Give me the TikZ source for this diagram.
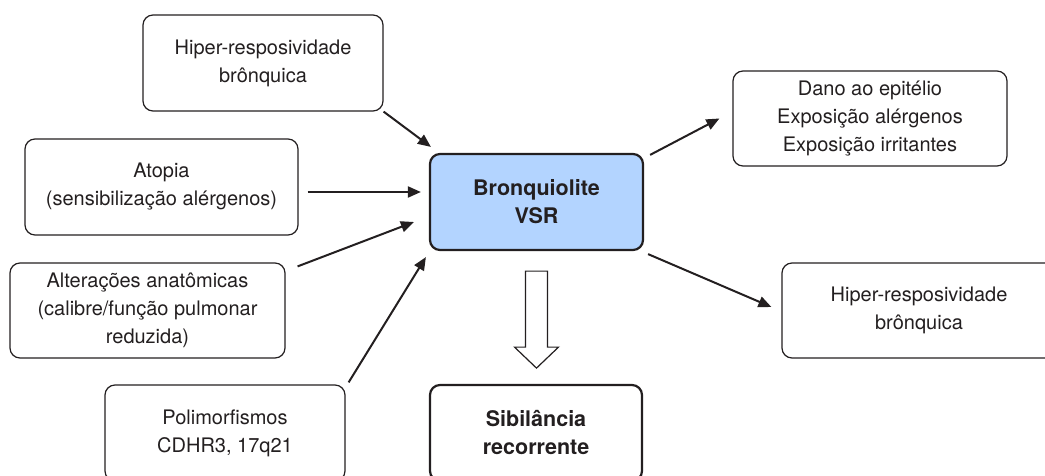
\documentclass[tikz,border=0pt]{standalone}
\usepackage{fontspec}
\setmainfont{TeX Gyre Heros}
\usetikzlibrary{arrows.meta}
\definecolor{ink}{HTML}{231F20}
\definecolor{vsrblue}{HTML}{B3D4FF}

\begin{document}
\begin{tikzpicture}[x=1pt, y=-1pt, color=ink, align=center, font=\fontsize{20}{28}\selectfont,
  box/.style={draw, rounded corners=10pt, line width=1.2pt, minimum height=96pt, inner sep=0pt},
  keybox/.style={box, line width=2.2pt, font=\fontsize{21.5}{28}\selectfont\bfseries},
  link/.style={-{Triangle[length=13pt,width=11pt]}, line width=2pt},
  hollow/.style={line width=1.2pt, fill=white, line join=miter}]
\useasboundingbox (0,0) rectangle (1045,476);
\node[box, minimum width=240pt] at (263,63) (hipL) {Hiper-resposividade\\brônquica};
\node[box, minimum width=273pt] at (161.5,187) (atop) {Atopia\\(sensibilização alérgenos)};
\node[box, minimum width=275pt, minimum height=95pt] at (147.5,310.5) (alter) {Alterações anatômicas\\(calibre/função pulmonar\\reduzida)};
\node[box, minimum width=240pt] at (225,433) (polim) {Polimorfismos\\CDHR3, 17q21};
\node[keybox, fill=vsrblue, minimum width=213pt] at (536.5,202) (bronq) {Bronquiolite\\VSR};
\node[keybox, minimum width=212pt] at (536,433) (sib) {Sibilância\\recorrente};
\node[box, minimum width=274pt, minimum height=95pt] at (870,118.5) (dano) {Dano ao epitélio\\Exposição alérgenos\\Exposição irritantes};
\node[box, minimum width=274pt, minimum height=95pt] at (919,310.5) (hipR) {Hiper-resposividade\\brônquica};
\draw[link] (hipL.south east) -- ([shift={(2pt,6pt)}]bronq.north west);
\draw[link] ([shift={(9pt,-5pt)}]atop.east) -- ([shift={(-8pt,10pt)}]bronq.west);
\draw[link] ([shift={(12pt,-4pt)}]alter.north east) -- ([shift={(-15pt,-20pt)}]bronq.west);
\draw[link] ([shift={(3pt,2pt)}]polim.north east) -- ([shift={(-3pt,-6pt)}]bronq.south west);
\draw[link] ([shift={(6pt,-2pt)}]bronq.north east) -- ([xshift=-13pt]dano.west);
\draw[link] ([shift={(4pt,-3pt)}]bronq.south east) -- ([shift={(-10pt,3.5pt)}]hipR.west);
\draw[hollow] ([shift={(-11pt,-20pt)}]bronq.south) -- ++(0,76) -- ++(-11,0) -- ++(22,21) -- ++(22,-21) -- ++(-11,0) -- ++(0,-76) -- cycle;
\end{tikzpicture}
\end{document}
